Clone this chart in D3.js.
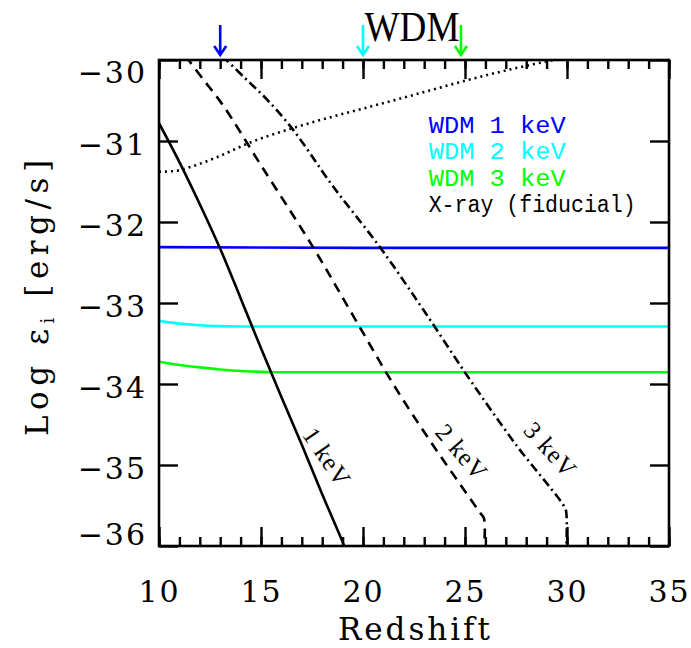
<!DOCTYPE html>
<html>
<head>
<meta charset="utf-8">
<script src="https://cdn.jsdelivr.net/npm/d3@7"></script>
<style>
  body { margin: 0; background: #fff; }
  svg { display: block; }
</style>
</head>
<body>
<div id="chart"></div>
<script>
// values
const xTicks = [10, 15, 20, 25, 30, 35];
const yTicks = [-30, -31, -32, -33, -34, -35, -36];

// WDM threshold curves (redshift, log eps)
const keV1 = [[10, -30.78], [11, -31.26], [12, -31.78], [13, -32.33], [14, -32.94],
  [15, -33.56], [16, -34.16], [17, -34.75], [18, -35.36], [19, -35.95], [19.1, -36.02]];
const keV2 = [[11.3, -29.95], [12.2, -30.25], [13.14, -30.56], [15, -31.3], [17.55, -32.31],
  [19.5, -33.15], [21.6, -34.05], [23.5, -34.78], [25.74, -35.59], [25.93, -35.66], [25.93, -36.05]];
const keV3 = [[13.1, -29.95], [14.2, -30.22], [15.3, -30.49], [16.57, -30.86], [18.5, -31.55],
  [20.83, -32.31], [23, -33.1], [25.25, -33.95], [27.5, -34.75], [29.9, -35.53],
  [29.97, -35.6], [29.97, -36.05]];
const xray = [[10, -31.38], [10.8, -31.37], [11.42, -31.33], [12.84, -31.2], [14.46, -31.02],
  [16.57, -30.84], [17.5, -30.77], [20, -30.6], [22.5, -30.43], [24.95, -30.26],
  [27.5, -30.1], [29.8, -29.98], [30.5, -29.95]];

// energy deposition per WDM mass
const wdm1 = [[10, -32.31], [20, -32.32], [35, -32.32]];
const wdm2 = [[10, -33.22], [11, -33.255], [12, -33.275], [13, -33.285], [14, -33.29], [35, -33.29]];
const wdm3 = [[10, -33.725], [11, -33.765], [12, -33.795], [13, -33.82], [14, -33.84],
  [15, -33.85], [16, -33.855], [35, -33.855]];

const legendNames = ["WDM 1 keV", "WDM 2 keV", "WDM 3 keV", "X-ray (fiducial)"];
const legendColors = ["#0000ff", "#00ffff", "#00ff00", "#000000"];
const arrowZ = [13, 20, 24.8];

const W = 691, H = 648;
const margin = { top: 60, right: 22, bottom: 102, left: 159 };
const width = W - margin.left - margin.right;
const height = H - margin.top - margin.bottom;

const svg = d3.select("#chart").append("svg")
  .attr("width", W).attr("height", H);

const g = svg.append("g")
  .attr("transform", `translate(${margin.left},${margin.top})`);

const x = d3.scaleLinear().domain([10, 35]).range([0, width]);
const y = d3.scaleLinear().domain([-30, -36]).range([0, height]);

const serif = "'DejaVu Serif', serif";

// clip
svg.append("defs").append("clipPath").attr("id", "clip")
  .append("rect").attr("width", width).attr("height", height);

const line = d3.line().x(d => x(d[0])).y(d => y(d[1]));
const smooth = d3.line().x(d => x(d[0])).y(d => y(d[1])).curve(d3.curveMonotoneX);

const plot = g.append("g").attr("clip-path", "url(#clip)");

// coloured lines
[[wdm1, "#0000ff"], [wdm2, "#00ffff"], [wdm3, "#00ff00"]].forEach(([d, c]) => {
  plot.append("path").datum(d)
    .attr("d", smooth).attr("fill", "none")
    .attr("stroke", c).attr("stroke-width", 2.6);
});

// black curves
plot.append("path").datum(keV1)
  .attr("d", line.curve(d3.curveCatmullRom.alpha(0.5)))
  .attr("fill", "none").attr("stroke", "#000").attr("stroke-width", 2.6);
plot.append("path").datum(keV2)
  .attr("d", line).attr("fill", "none").attr("stroke", "#000")
  .attr("stroke-width", 2.6).attr("stroke-dasharray", "10,7");
plot.append("path").datum(keV3)
  .attr("d", line).attr("fill", "none").attr("stroke", "#000")
  .attr("stroke-width", 2.6).attr("stroke-dasharray", "9,4,2,4");
plot.append("path").datum(xray)
  .attr("d", smooth).attr("fill", "none").attr("stroke", "#000")
  .attr("stroke-width", 2.6).attr("stroke-dasharray", "2,4");

// curve labels
const curveLabels = [
  { text: "1 keV", z: 18.24, v: -34.9, a: 56 },
  { text: "2 keV", z: 24.85, v: -34.84, a: 49 },
  { text: "3 keV", z: 29.2, v: -34.81, a: 48 }
];
g.selectAll(".clab").data(curveLabels).join("text")
  .attr("class", "clab")
  .attr("transform", d => `translate(${x(d.z)},${y(d.v)}) rotate(${d.a})`)
  .attr("text-anchor", "middle").attr("dy", "0.35em")
  .style("font-family", "'Liberation Serif', serif").style("font-size", "25px")
  .style("letter-spacing", "1px")
  .text(d => d.text);

// axes
const fmt = d => "\u2212" + Math.abs(d);
const xMinor = d3.range(10, 36, 1);

g.append("g").attr("transform", `translate(0,${height})`)
  .call(d3.axisBottom(x).tickValues(xMinor).tickSize(-9).tickFormat(""));
g.append("g")
  .call(d3.axisTop(x).tickValues(xMinor).tickSize(-9).tickFormat(""));

const xAxis = g.append("g").attr("transform", `translate(0,${height})`)
  .call(d3.axisBottom(x).tickValues(xTicks).tickSize(-19).tickPadding(35).tickFormat(d3.format("d")));
g.append("g")
  .call(d3.axisTop(x).tickValues(xTicks).tickSize(-19).tickFormat(""));

const yAxis = g.append("g")
  .call(d3.axisLeft(y).tickValues(yTicks).tickSize(-19).tickPadding(12).tickFormat(fmt));
g.append("g").attr("transform", `translate(${width},0)`)
  .call(d3.axisRight(y).tickValues(yTicks).tickSize(-19).tickFormat(""));

g.selectAll(".domain").remove();
g.selectAll(".tick line").attr("stroke", "#000").attr("stroke-width", 2.4);
g.selectAll(".tick text").style("font-family", serif).style("font-size", "30px")
  .attr("fill", "#000").style("letter-spacing", "2px");

// keep end labels inside the frame height
yAxis.selectAll(".tick text")
  .attr("dy", d => d === -30 ? "0.75em" : d === -36 ? "-0.05em" : "0.45em");

g.append("rect").attr("width", width).attr("height", height)
  .attr("fill", "none").attr("stroke", "#000").attr("stroke-width", 2.6);

// legend
const legendLen = [137, 137, 137, 207];
g.append("g").selectAll("text").data(legendNames).join("text")
  .attr("x", x(23.22))
  .attr("y", (d, i) => y(-30.9) + i * 26.5)
  .attr("fill", (d, i) => legendColors[i])
  .style("font-family", "'Liberation Mono', monospace").style("font-size", "23px")
  .attr("xml:space", "preserve")
  .attr("textLength", (d, i) => legendLen[i])
  .attr("lengthAdjust", "spacingAndGlyphs")
  .text(d => d);

// arrows on top
const arrows = g.append("g").selectAll("g").data(arrowZ).join("g")
  .attr("transform", d => `translate(${x(d)},0)`);
arrows.append("line").attr("y1", -35).attr("y2", -6)
  .attr("stroke", (d, i) => legendColors[i]).attr("stroke-width", 2.6);
arrows.append("path").attr("d", "M-6,-14 L0,-5 L6,-14")
  .attr("fill", "none").attr("stroke", (d, i) => legendColors[i]).attr("stroke-width", 2.6);

// titles
svg.append("text").attr("x", 412).attr("y", 41)
  .attr("text-anchor", "middle")
  .style("font-family", "'Liberation Serif', serif").style("font-size", "43px")
  .attr("textLength", 95).attr("lengthAdjust", "spacingAndGlyphs")
  .text("WDM");

svg.append("text")
  .attr("x", 414).attr("y", 640)
  .attr("text-anchor", "middle")
  .style("font-family", serif).style("font-size", "31px")
  .attr("textLength", 152).attr("lengthAdjust", "spacing")
  .text("Redshift");

const yt = svg.append("text")
  .attr("transform", `translate(48,298) rotate(-90)`)
  .attr("text-anchor", "middle")
  .style("font-family", serif).style("font-size", "31px")
  .attr("textLength", 276).attr("lengthAdjust", "spacing");
yt.append("tspan").text("Log \u03b5");
yt.append("tspan").attr("dy", 6).style("font-size", "18px").text("i");
yt.append("tspan").attr("dy", -6).text(" [erg/s]");
</script>
</body>
</html>
